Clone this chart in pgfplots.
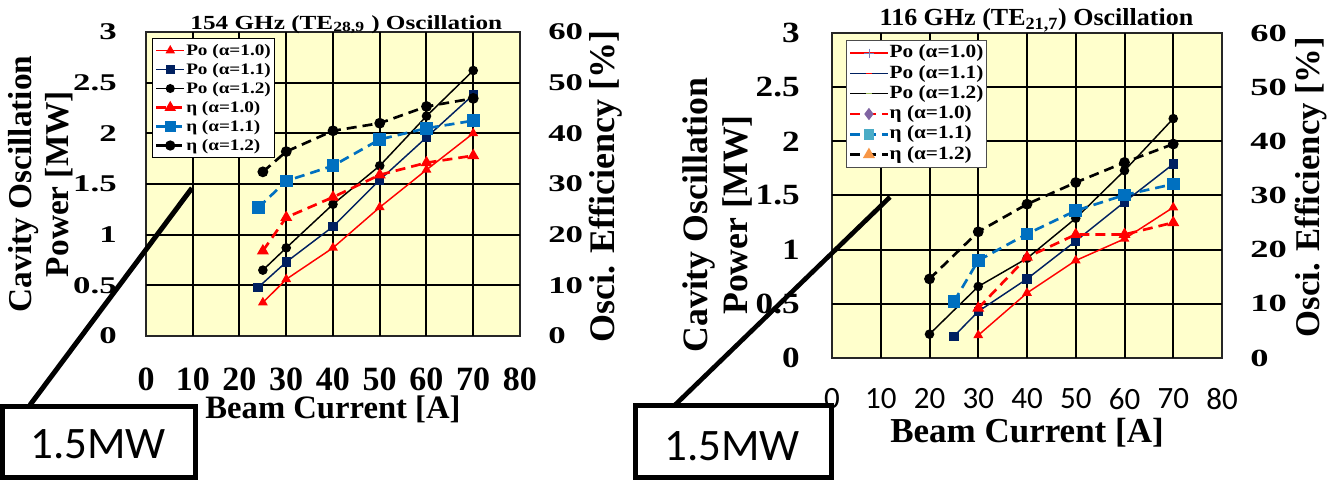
\documentclass[border=0pt]{standalone}
\usepackage{fontspec}
\setmainfont{Liberation Serif}
\newfontfamily\calib{Carlito}
\usepackage{graphicx}
\usepackage{pgfplots}
\pgfplotsset{compat=1.18}

\definecolor{bgy}{RGB}{255,255,204}
\definecolor{navy}{RGB}{0,32,96}
\definecolor{eblue}{RGB}{0,112,192}
\definecolor{lblue}{RGB}{75,172,198}
\definecolor{purp}{RGB}{128,100,162}
\definecolor{orng}{RGB}{247,150,70}
\definecolor{lgreen}{RGB}{155,187,89}
\definecolor{slate}{RGB}{120,130,190}

\newcommand{\sx}[2]{\scalebox{#1}[1]{#2}}

\pgfplotsset{
  chartbase/.style={scale only axis, xmin=0, xmax=80, major tick length=0pt},
  poline/.style={line width=1.1pt, solid},
  etaline/.style={line width=2pt, dash pattern=on 7.5pt off 4.5pt},
  gridplot/.style={black, line width=1.5pt, solid, mark=none, forget plot},
}

\begin{document}
\begin{tikzpicture}
\useasboundingbox (0pt,0pt) rectangle (995.25pt,359.25pt);

% ================= LEFT CHART: 154 GHz =================
\begin{axis}[chartbase,
  at={(109.5pt,107.25pt)}, anchor=south west, width=280.5pt, height=228pt,
  ymin=0, ymax=3,
  xtick={0,10,20,30,40,50,60,70,80}, ytick={0,0.5,1,1.5,2,2.5,3},
  xticklabels={0,10,20,30,40,50,60,70,80},
  yticklabels={\sx{1.45}{0},\sx{1.45}{0.5},\sx{1.45}{1},\sx{1.45}{1.5},\sx{1.45}{2},\sx{1.45}{2.5},\sx{1.45}{3}},
  axis line style={line width=1.5pt, draw=black!85},
  axis background/.style={fill=bgy},
  xticklabel style={font=\bfseries\fontsize{25.5pt}{27pt}\selectfont, anchor=north, inner sep=0pt, yshift=-24pt},
  yticklabel style={font=\bfseries\fontsize{18pt}{20pt}\selectfont, anchor=east, inner sep=0pt, xshift=-21.75pt},
  title={\sx{1.26}{154 GHz (TE\textsubscript{28,9} ) Oscillation}},
  title style={at={(axis description cs:0.5,1)}, anchor=base, xshift=10pt, yshift=-3.75pt, inner sep=0pt, font=\bfseries\fontsize{15pt}{17pt}\selectfont},
  xlabel={Beam Current [A]},
  xlabel style={at={(axis description cs:0.5,0)}, anchor=base, yshift=-61.5pt, inner sep=0pt, font=\bfseries\fontsize{24.5pt}{27pt}\selectfont},
  ylabel={Cavity Oscillation\\Power [MW]},
  ylabel style={at={(axis description cs:-0.2807,0.5)}, anchor=center, align=center, inner sep=0pt, font=\bfseries\fontsize{25pt}{27.75pt}\selectfont},
]
\pgfplotsinvokeforeach{10,20,30,40,50,60,70}{\addplot[gridplot] coordinates {(#1,0) (#1,3)};}
\pgfplotsinvokeforeach{0.5,1,1.5,2,2.5}{\addplot[gridplot] coordinates {(0,#1) (80,#1)};}
\addplot[red, poline, mark=triangle*, mark size=3.2pt] coordinates {(25,0.33)(30,0.56)(40,0.87)(50,1.27)(60,1.64)(70,2.00)};
\addplot[navy, poline, mark=square*, mark size=3pt] coordinates {(24,0.48)(30,0.73)(40,1.08)(50,1.54)(60,1.96)(70,2.38)};
\addplot[black, poline, mark=*, mark size=3pt] coordinates {(25,0.65)(30,0.87)(40,1.30)(50,1.68)(60,2.17)(70,2.62)};
\end{axis}

\begin{axis}[chartbase,
  at={(109.5pt,107.25pt)}, anchor=south west, width=280.5pt, height=228pt,
  ymin=0, ymax=60, axis y line*=right, axis x line=none,
  y axis line style={draw=none},
  ytick={0,10,20,30,40,50,60},
  yticklabels={\sx{1.45}{0},\sx{1.45}{10},\sx{1.45}{20},\sx{1.45}{30},\sx{1.45}{40},\sx{1.45}{50},\sx{1.45}{60}},
  yticklabel style={font=\bfseries\fontsize{18pt}{20pt}\selectfont, anchor=west, inner sep=0pt, xshift=21pt},
  ylabel={Osci. Efficiency [\%]},
  ylabel style={at={(axis description cs:1.23,0.493)}, anchor=center, inner sep=0pt, font=\bfseries\fontsize{27pt}{30pt}\selectfont},
  legend cell align=left,
  legend style={at={(axis description cs:0.016,0.98)}, anchor=north west, draw=black, fill=white, inner sep=2pt,
    font=\bfseries\fontsize{12pt}{13pt}\selectfont, row sep=0pt,
    nodes={inner sep=0.5pt, text height=10pt, text depth=3.25pt}},
  legend image code/.code={\draw[mark repeat=2,mark phase=2,#1] plot coordinates {(0pt,0pt) (10.5pt,0pt) (21pt,0pt)};},
]
\addlegendimage{red, poline, mark=triangle*, mark size=3pt}
\addlegendentry{\sx{1.2}{Po (α=1.0)}}
\addlegendimage{navy, poline, mark=square*, mark size=2.8pt}
\addlegendentry{\sx{1.2}{Po (α=1.1)}}
\addlegendimage{black, poline, mark=*, mark size=2.8pt}
\addlegendentry{\sx{1.2}{Po (α=1.2)}}
\addlegendimage{red, etaline, mark=triangle*, mark size=3pt, mark options={solid}}
\addlegendentry{\sx{1.2}{η (α=1.0)}}
\addlegendimage{eblue, etaline, mark=square*, mark size=3pt, mark options={solid}}
\addlegendentry{\sx{1.2}{η (α=1.1)}}
\addlegendimage{black, etaline, mark=*, mark size=2.8pt, mark options={solid}}
\addlegendentry{\sx{1.2}{η (α=1.2)}}
\addplot[red, etaline, mark=triangle*, mark size=3.2pt, mark options={solid}, forget plot] coordinates {(25,16.8)(30,23.4)(40,27.4)(50,31.8)(60,34.2)(70,35.6)};
\addplot[eblue, etaline, mark=square*, mark size=3.75pt, mark options={solid}, forget plot] coordinates {(24,25.3)(30,30.6)(40,33.6)(50,38.8)(60,41.0)(70,42.5)};
\addplot[black, etaline, mark=*, mark size=3pt, mark options={solid}, forget plot] coordinates {(25,32.4)(30,36.4)(40,40.5)(50,42.0)(60,45.3)(70,46.9)};
\end{axis}

% ================= RIGHT CHART: 116 GHz =================
\begin{axis}[chartbase,
  at={(624pt,90.75pt)}, anchor=south west, width=292.5pt, height=243.75pt,
  ymin=0, ymax=3,
  xtick={0,10,20,30,40,50,60,70,80}, ytick={0,0.5,1,1.5,2,2.5,3},
  xticklabels={0,10,20,30,40,50,60,70,80},
  yticklabels={\sx{1.2}{0},\sx{1.2}{0.5},\sx{1.2}{1},\sx{1.2}{1.5},\sx{1.2}{2},\sx{1.2}{2.5},\sx{1.2}{3}},
  axis line style={line width=1.5pt, draw=black!85},
  axis background/.style={fill=bgy},
  xticklabel style={font=\calib\fontsize{23.25pt}{25pt}\selectfont, anchor=north, inner sep=0pt, yshift=-22.5pt},
  yticklabel style={font=\bfseries\fontsize{22pt}{24pt}\selectfont, anchor=east, inner sep=0pt, xshift=-24pt},
  title={\sx{1.06}{116 GHz (TE\textsubscript{21,7}) Oscillation}},
  title style={at={(axis description cs:0.5,1)}, anchor=base, xshift=7.1pt, yshift=-0.5pt, inner sep=0pt, font=\bfseries\fontsize{18.4pt}{20pt}\selectfont},
  xlabel={Beam Current [A]},
  xlabel style={at={(axis description cs:0.5,0)}, anchor=base, yshift=-63pt, inner sep=0pt, font=\bfseries\fontsize{26.25pt}{28pt}\selectfont},
  ylabel={Cavity Oscillation\\Power [MW]},
  ylabel style={at={(axis description cs:-0.2936,0.44)}, anchor=center, align=center, inner sep=0pt, font=\bfseries\fontsize{26.8pt}{30pt}\selectfont},
]
\pgfplotsinvokeforeach{10,20,30,40,50,60,70}{\addplot[gridplot] coordinates {(#1,0) (#1,3)};}
\pgfplotsinvokeforeach{0.5,1,1.5,2,2.5}{\addplot[gridplot] coordinates {(0,#1) (80,#1)};}
\addplot[red, poline, mark=triangle*, mark size=3.2pt] coordinates {(30,0.21)(40,0.60)(50,0.90)(60,1.10)(70,1.39)};
\addplot[navy, poline, mark=square*, mark size=3pt] coordinates {(25,0.20)(30,0.43)(40,0.73)(50,1.08)(60,1.44)(70,1.79)};
\addplot[black, poline, mark=*, mark size=3pt] coordinates {(20,0.22)(30,0.66)(40,0.92)(50,1.29)(60,1.73)(70,2.21)};
\end{axis}

\begin{axis}[chartbase,
  at={(624pt,90.75pt)}, anchor=south west, width=292.5pt, height=243.75pt,
  ymin=0, ymax=60, axis y line*=right, axis x line=none,
  y axis line style={draw=none},
  ytick={0,10,20,30,40,50,60},
  yticklabels={\sx{1.48}{0},\sx{1.48}{10},\sx{1.48}{20},\sx{1.48}{30},\sx{1.48}{40},\sx{1.48}{50},\sx{1.48}{60}},
  yticklabel style={font=\bfseries\fontsize{18.5pt}{20pt}\selectfont, anchor=west, inner sep=0pt, xshift=21pt},
  ylabel={Osci. Efficiency [\%]},
  ylabel style={at={(axis description cs:1.228,0.526)}, anchor=center, inner sep=0pt, font=\bfseries\fontsize{26pt}{29pt}\selectfont},
  legend cell align=left,
  legend style={at={(axis description cs:0.0359,0.978)}, anchor=north west, draw=black!70, fill=white, inner sep=2pt,
    font=\bfseries\fontsize{14pt}{15pt}\selectfont, row sep=0pt,
    nodes={inner sep=0.5pt, text height=10.5pt, text depth=3.7pt}},
  legend image code/.code={\draw[mark repeat=2,mark phase=2,#1] plot coordinates {(0pt,0pt) (14pt,0pt) (28pt,0pt)};},
]
\addlegendimage{red, poline, mark=+, mark size=3.5pt, mark options={slate, line width=0.6pt}}
\addlegendentry{\sx{1.14}{Po (α=1.0)}}
\addlegendimage{navy, poline, mark=-, mark size=2pt, mark options={red, line width=1pt}}
\addlegendentry{\sx{1.14}{Po (α=1.1)}}
\addlegendimage{black, poline, mark=-, mark size=2pt, mark options={lgreen, line width=1pt}}
\addlegendentry{\sx{1.14}{Po (α=1.2)}}
\addlegendimage{red, etaline, mark=diamond*, mark size=3pt, mark options={solid, draw=purp, fill=purp}}
\addlegendentry{\sx{1.14}{η (α=1.0)}}
\addlegendimage{eblue, etaline, mark=square*, mark size=3pt, mark options={solid, draw=lblue, fill=lblue}}
\addlegendentry{\sx{1.14}{η (α=1.1)}}
\addlegendimage{black, etaline, mark=triangle*, mark size=3.2pt, mark options={solid, draw=orng, fill=orng}}
\addlegendentry{\sx{1.14}{η (α=1.2)}}
\addplot[red, etaline, mark=triangle*, mark size=3.2pt, mark options={solid}, forget plot] coordinates {(30,9.2)(40,18.6)(50,22.8)(60,22.8)(70,25.0)};
\addplot[eblue, etaline, mark=square*, mark size=3.75pt, mark options={solid}, forget plot] coordinates {(25,10.4)(30,18.0)(40,22.9)(50,27.2)(60,30.1)(70,32.1)};
\addplot[black, etaline, mark=*, mark size=3pt, mark options={solid}, forget plot] coordinates {(20,14.6)(30,23.3)(40,28.4)(50,32.4)(60,36.1)(70,39.5)};
\end{axis}

% ================= 1.5MW annotations =================
\begin{scope}[x=0.75pt,y=0.75pt]
\draw[line width=3.75pt] (30,74) -- (192,291);
\draw[line width=3.5pt] (675,74) -- (890,282);
\draw[line width=3.75pt, fill=white] (2.5,73) rectangle (195.5,2);
\node[font=\calib\fontsize{33.75pt}{36pt}\selectfont, inner sep=0pt] at (98,35) {1.5MW};
\draw[line width=3.75pt, fill=white] (635.5,73.5) rectangle (831.5,2);
\node[font=\calib\fontsize{33.75pt}{36pt}\selectfont, inner sep=0pt] at (732,33) {1.5MW};
\end{scope}
\end{tikzpicture}
\end{document}
